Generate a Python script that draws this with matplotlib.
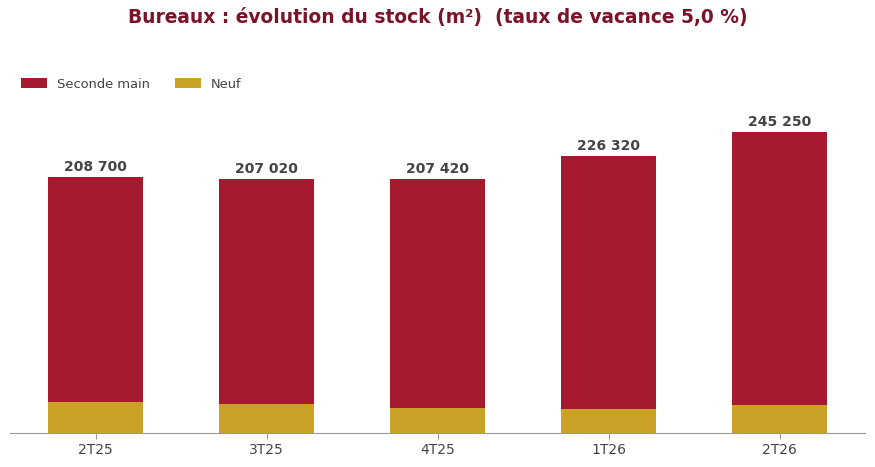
import matplotlib.pyplot as plt
import numpy as np

# Stock de bureaux par trimestre (m²)
trimestres = ['2T25', '3T25', '4T25', '1T26', '2T26']
totaux = [208700, 207020, 207420, 226320, 245250]
neuf = [25300, 23700, 20700, 19800, 22850]
seconde_main = [t - n for t, n in zip(totaux, neuf)]

ROUGE = '#A6192E'
OR = '#C9A227'
TITRE = '#7A1228'
GRIS = '#444444'

fig = plt.figure(figsize=(8.75, 4.67), dpi=100)
ax = fig.add_axes([10 / 875, 34 / 467, 855 / 875, 333 / 467])

x = np.arange(len(trimestres))
ax.bar(x, neuf, width=0.55, color=OR, label='Neuf')
ax.bar(x, seconde_main, width=0.55, bottom=neuf, color=ROUGE, label='Seconde main')

for xi, t in zip(x, totaux):
    ax.text(xi, t + 2500, f"{t:,}".replace(',', ' '), ha='center', va='bottom',
            fontsize=10, fontweight='bold', color=GRIS)

ax.set_xlim(-0.5, 4.5)
ax.set_ylim(0, 333 * 816)
ax.set_xticks(x)
ax.set_xticklabels(trimestres, fontsize=10, color=GRIS)
ax.set_yticks([])
for side in ['top', 'right', 'left']:
    ax.spines[side].set_visible(False)
ax.spines['bottom'].set_color('#999999')
ax.tick_params(axis='x', color='#999999', length=4)

# légende : Seconde main d'abord
handles, labels = ax.get_legend_handles_labels()
leg = fig.legend(handles[::-1], labels[::-1], loc='center left',
                 bbox_to_anchor=(9 / 875, 1 - 84 / 467), ncol=2, frameon=False,
                 fontsize=9.4, handlelength=2.0, handleheight=0.75,
                 columnspacing=1.95, handletextpad=0.75)
for txt in leg.get_texts():
    txt.set_color(GRIS)

fig.suptitle('Bureaux : évolution du stock (m²)  (taux de vacance 5,0 %)',
             x=0.5, y=1 - 18 / 467, va='center', fontsize=13.4, fontweight='bold',
             color=TITRE)

fig.savefig('out.png', dpi=100)
